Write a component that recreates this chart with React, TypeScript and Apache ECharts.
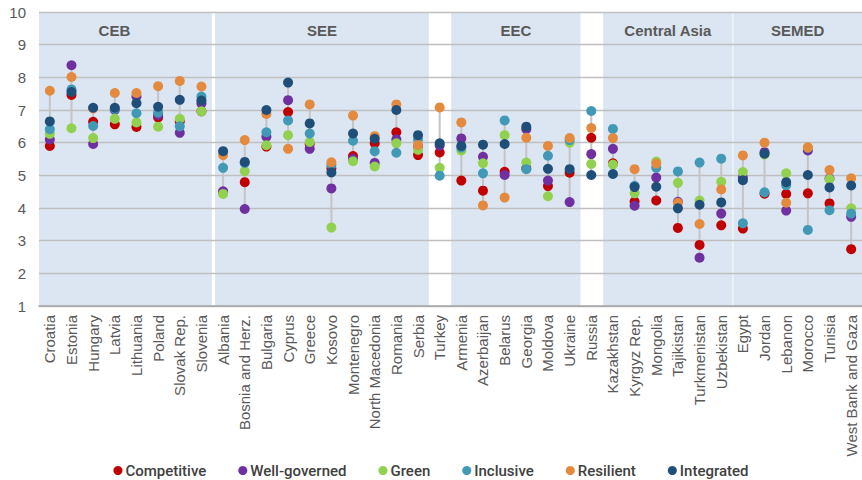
import React, { useEffect, useRef } from "react";
import * as echarts from "echarts";

const countries = [
  "Croatia", "Estonia", "Hungary", "Latvia", "Lithuania", "Poland", "Slovak Rep.", "Slovenia",
  "Albania", "Bosnia and Herz.", "Bulgaria", "Cyprus", "Greece", "Kosovo", "Montenegro", "North Macedonia", "Romania", "Serbia", "Turkey",
  "Armenia", "Azerbaijan", "Belarus", "Georgia", "Moldova", "Ukraine", "Russia",
  "Kazakhstan", "Kyrgyz Rep.", "Mongolia", "Tajikistan", "Turkmenistan", "Uzbekistan",
  "Egypt", "Jordan", "Lebanon", "Morocco", "Tunisia", "West Bank and Gaza",
];

const competitive = [5.90, 7.46, 6.64, 6.56, 6.48, 6.77, 6.65, 6.96, 4.48, 4.79, 5.88, 6.94, 5.96, 5.21, 5.59, 5.98, 6.32, 5.62, 5.70, 4.84, 4.53, 5.11, 5.22, 4.67, 5.08, 6.15, 5.37, 4.20, 4.23, 3.39, 2.87, 3.47, 3.37, 4.44, 4.43, 4.45, 4.14, 2.74];
const wellGoverned = [6.10, 8.37, 5.96, 7.00, 7.41, 6.85, 6.30, 7.20, 4.51, 3.97, 6.18, 7.30, 5.81, 4.60, 5.50, 5.38, 6.10, 5.88, 5.91, 6.13, 5.57, 5.01, 6.41, 4.84, 4.18, 5.65, 5.81, 4.07, 4.93, 4.19, 2.48, 3.83, 4.93, 5.71, 3.92, 5.76, 4.90, 3.73];
const green = [6.27, 6.44, 6.14, 6.73, 6.62, 6.49, 6.73, 6.96, 4.43, 5.13, 5.92, 6.23, 6.02, 3.40, 5.43, 5.27, 5.98, 5.78, 5.23, 5.76, 5.37, 6.23, 5.39, 4.36, 6.00, 5.35, 5.33, 4.45, 5.42, 4.77, 4.23, 4.80, 5.10, 5.64, 5.06, 5.85, 4.88, 3.99];
const inclusive = [6.41, 7.63, 6.51, 7.03, 6.90, 6.92, 6.50, 7.41, 5.23, 5.38, 6.32, 6.68, 6.28, 5.32, 6.06, 5.74, 5.69, 6.10, 4.99, 5.85, 5.06, 6.68, 5.19, 5.60, 6.08, 6.97, 6.42, 4.68, 5.23, 5.12, 5.39, 5.51, 3.53, 4.48, 4.70, 3.33, 3.93, 3.83];
const resilient = [7.59, 8.01, 7.05, 7.52, 7.52, 7.73, 7.89, 7.72, 5.62, 6.08, 6.88, 5.81, 7.17, 5.40, 6.83, 6.20, 7.17, 5.93, 7.08, 6.62, 4.08, 4.32, 6.15, 5.90, 6.14, 6.45, 6.14, 5.19, 5.36, 4.16, 3.51, 4.57, 5.61, 6.00, 4.16, 5.86, 5.16, 4.91];
const integrated = [6.65, 7.55, 7.07, 7.07, 7.21, 7.10, 7.31, 7.29, 5.74, 5.41, 7.00, 7.84, 6.59, 5.09, 6.28, 6.12, 7.00, 6.23, 5.98, 5.90, 5.94, 5.96, 6.49, 5.20, 5.19, 5.01, 5.04, 4.64, 4.65, 3.99, 4.10, 4.17, 4.85, 5.66, 4.79, 5.01, 4.63, 4.69];

const seriesNames = ["Competitive", "Well-governed", "Green", "Inclusive", "Resilient", "Integrated"];
const seriesValues = [competitive, wellGoverned, green, inclusive, resilient, integrated];
const seriesColors = ["#C00000", "#7030A0", "#92D050", "#4199B5", "#E38A3E", "#1F4E79"];

// region bands on a 0..38 category-boundary scale
const regionNames = ["CEB", "SEE", "EEC", "Central Asia", "SEMED"];
const regionStart = [0, 8.13, 19.03, 26.05, 32.06];
const regionEnd = [7.98, 18, 25, 32.02, 38];
const regionLabelShift = [-11, 0, 0, 0, 0];

export default function App() {
  const ref = useRef<HTMLDivElement>(null);
  useEffect(() => {
    if (!ref.current) return;
    const chart = echarts.init(ref.current, undefined, { renderer: "svg" });
    const ranges = countries.map((_, i) => {
      const vals = seriesValues.map((s) => s[i]);
      return [i, Math.min(...vals), Math.max(...vals)];
    });
    const option: any = {
      animation: false,
      textStyle: { fontFamily: "Liberation Sans" },
      grid: { left: 39, right: -2, top: 12, bottom: 174, containLabel: false },
      legend: {
        data: seriesNames,
        top: 458,
        left: "center",
        icon: "circle",
        itemWidth: 9,
        itemHeight: 9,
        itemGap: 32,
        textStyle: { fontFamily: "Roboto", fontWeight: 500, fontSize: 15, color: "#404040", padding: [0, 0, 0, -2] },
      },
      xAxis: [
        {
          type: "category",
          data: countries,
          z: 2,
          axisLine: { show: true, lineStyle: { color: "#A6A6A6", width: 1.5 } },
          axisTick: { show: false },
          axisLabel: { rotate: 90, interval: 0, fontSize: 15, color: "#595959", margin: 9 },
          splitLine: { show: false },
        },
        {
          type: "value",
          min: 0,
          max: 38,
          show: false,
        },
      ],
      yAxis: {
        type: "value",
        min: 1,
        max: 10,
        interval: 1,
        z: 2,
        axisLine: { show: false },
        axisTick: { show: false },
        axisLabel: { fontSize: 15, color: "#595959", margin: 13 },
        splitLine: { show: true, lineStyle: { color: "#BFBFBF", width: 1.3 } },
      },
      series: [
        {
          type: "line",
          xAxisIndex: 1,
          data: [[0, 1]],
          showSymbol: false,
          lineStyle: { opacity: 0 },
          silent: true,
          markArea: {
            silent: true,
            itemStyle: { color: "#DCE6F2" },
            label: {
              show: true,
              position: "insideTop",
              distance: 11,
              fontWeight: "bold",
              fontSize: 15,
              color: "#595959",
            },
            data: regionNames.map((n, i) => [
              { name: n, xAxis: regionStart[i], yAxis: 10, label: { offset: [regionLabelShift[i], 0] } },
              { xAxis: regionEnd[i], yAxis: 1 },
            ]),
          },
        },
        {
          type: "custom",
          z: 3,
          silent: true,
          data: ranges,
          encode: { x: 0, y: [1, 2] },
          renderItem: (params: any, api: any) => {
            const x = api.value(0);
            const p1 = api.coord([x, api.value(1)]);
            const p2 = api.coord([x, api.value(2)]);
            return {
              type: "line",
              shape: { x1: p1[0], y1: p1[1], x2: p2[0], y2: p2[1] },
              style: { stroke: "#C4C4C4", lineWidth: 2 },
            };
          },
        },
        ...seriesNames.map((n, k) => ({
          name: n,
          type: "scatter",
          z: 4,
          symbol: "circle",
          symbolSize: 10,
          itemStyle: { color: seriesColors[k], opacity: 1 },
          data: seriesValues[k],
        })),
      ],
    };
    chart.setOption(option);
    return () => chart.dispose();
  }, []);
  return (
    <div
      ref={ref}
      style={{ position: "fixed", left: 0, top: 0, width: 862, height: 480, background: "#fff" }}
    />
  );
}
